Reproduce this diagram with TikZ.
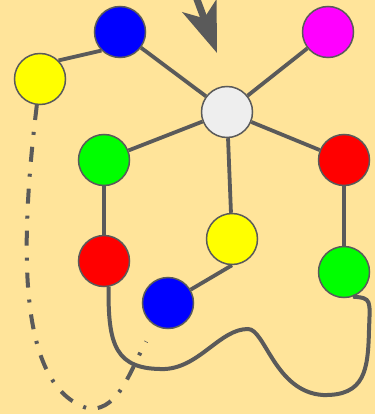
\documentclass[tikz,border=0pt]{standalone}
\usetikzlibrary{arrows.meta}
\definecolor{paper}{HTML}{FFE49A}
\definecolor{ink}{HTML}{5A5A5A}
\definecolor{hubgray}{HTML}{EEEEEE}
\definecolor{ballblue}{HTML}{0000FF}
\definecolor{ballyellow}{HTML}{FFFF00}
\definecolor{ballmagenta}{HTML}{FF00FF}
\definecolor{ballgreen}{HTML}{00FF00}
\definecolor{ballred}{HTML}{FF0000}
\tikzset{
  ball/.style={circle,draw=ink,line width=1.5pt,minimum size=51pt,inner sep=0pt},
  link/.style={draw=ink,line width=3.8pt},
  wire/.style={draw=ink,line width=4pt},
  dotdash/.style={draw=ink,line width=4pt,dash pattern=on 15pt off 12pt on 3pt off 12pt},
}
\begin{document}
\begin{tikzpicture}[x=1pt,y=-1pt]
\useasboundingbox (0,0) rectangle (375,414);
\clip (0,0) rectangle (375,414);
\fill[paper] (0,0) rectangle (375,414);

\node[ball,fill=ballblue] (bt) at (120,32) {};
\node[ball,fill=ballyellow] (yl) at (40,79) {};
\node[ball,fill=ballmagenta] (mg) at (328,32) {};
\node[ball,fill=hubgray] (hub) at (227,112) {};
\node[ball,fill=ballgreen] (gl) at (104,160) {};
\node[ball,fill=ballred] (rr) at (344,160) {};
\node[ball,fill=ballyellow] (ym) at (232,239) {};
\node[ball,fill=ballred] (rl) at (104,261) {};
\node[ball,fill=ballgreen] (gr) at (344,272) {};
\node[ball,fill=ballblue] (bb) at (168,303) {};

\path[link] (yl.45) -- (bt.225);
\path[link] (bt) -- (hub);
\path[link] (mg) -- (hub);
\path[link] (hub) -- (gl);
\path[link] (hub) -- (rr);
\path[link] (hub) -- (ym);
\path[link] (gl) -- (rl);
\path[link] (rr) -- (gr);
\path[link] (ym.south) -- (bb);

\path[wire] (rl.-80) .. controls (108,345) and (115,370) .. (165,369)
  .. controls (200,367) and (220,329) .. (248,329)
  .. controls (265,329) and (275,392) .. (323,395)
  .. controls (365,396) and (368,370) .. (369,330)
  .. controls (370,300) and (372,298) .. (gr.-70);
\path[dotdash,shorten >=18pt] (yl) .. controls (18,260) and (20,390) .. (90,409)
  .. controls (120,409) and (130,370) .. (bb);

\draw[ink,line width=7pt,-{Stealth[length=50pt,width=36pt,inset=13pt]}] (189,-22) -- (217,53);
\end{tikzpicture}
\end{document}
